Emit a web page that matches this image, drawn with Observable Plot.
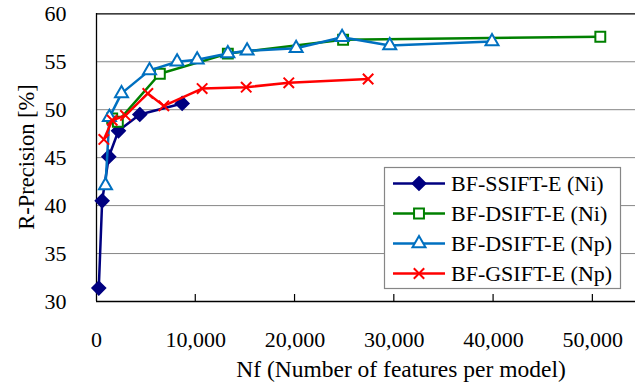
<!DOCTYPE html>
<html>
<head>
<meta charset="utf-8">
<script src="https://cdn.jsdelivr.net/npm/d3@7"></script>
<script src="https://cdn.jsdelivr.net/npm/@observablehq/plot@0.6"></script>
<style>
  html, body { margin: 0; padding: 0; background: white; }
  #chart { width: 635px; height: 385px; overflow: hidden; }
</style>
</head>
<body>
<div id="chart"></div>
<script>
// ---- data ----
const seriesNames = ["BF-SSIFT-E (Ni)", "BF-DSIFT-E (Ni)", "BF-DSIFT-E (Np)", "BF-GSIFT-E (Np)"];
const ssiftNiX = [230, 570, 1240, 2215, 4360, 8630];
const ssiftNiY = [31.4, 40.5, 45.1, 47.8, 49.5, 50.65];
const dsiftNiX = [1580, 2150, 6380, 13230, 24840, 50750];
const dsiftNiY = [49.1, 48.75, 53.75, 55.85, 57.3, 57.6];
const dsiftNpX = [906, 1300, 2520, 5340, 8120, 10140, 13230, 15170, 20110, 24740, 29540, 39840];
const dsiftNpY = [42.1, 49.2, 51.7, 54.1, 55.0, 55.2, 55.85, 56.15, 56.4, 57.55, 56.7, 57.1];
const gsiftNpX = [740, 1580, 2920, 5170, 6780, 10640, 15080, 19370, 27360];
const gsiftNpY = [46.9, 48.9, 49.4, 51.7, 50.4, 52.2, 52.35, 52.8, 53.2];
const xTicks = [0, 10000, 20000, 30000, 40000, 50000];
const yTicks = [30, 35, 40, 45, 50, 55, 60];
const xLabel = "Nf (Number of features per model)";
const yLabel = "R-Precision [%]";

// ---- styles ----
const colors = ["#000080", "#008000", "#0070C0", "#FF0000"];
const symbols = ["diamond2", "square2", "triangle2", "times"];
const filled = [true, false, false, false];
const dotR = [5.8, 6.3, 6.2, 4.8];
const FONT = "'Liberation Serif', 'Times New Roman', serif";

const xsAll = [ssiftNiX, dsiftNiX, dsiftNpX, gsiftNpX];
const ysAll = [ssiftNiY, dsiftNiY, dsiftNpY, gsiftNpY];
const data = [];
seriesNames.forEach((name, i) => xsAll[i].forEach((x, j) => data.push({series: name, idx: i, nf: x, rp: ysAll[i][j]})));

const marks = [
  Plot.gridY(yTicks.slice(1, -1), {stroke: "#868686", strokeOpacity: 1, strokeWidth: 1}),
  Plot.ruleY([60], {stroke: "black", strokeWidth: 1.3}),
  Plot.ruleY([30], {stroke: "black", strokeWidth: 1.3}),
  Plot.ruleX([0], {stroke: "black", strokeWidth: 1.3}),
  Plot.axisX({ticks: xTicks, tickSize: 0, tickPadding: 30, tickFormat: d3.format(","), fontSize: 22, fontFamily: FONT, label: null}),
  Plot.axisY({ticks: yTicks, tickSize: 0, tickPadding: 30, fontSize: 22, fontFamily: FONT, label: null})
];
seriesNames.forEach((name, i) => {
  const d = data.filter(e => e.idx === i);
  marks.push(Plot.line(d, {x: "nf", y: "rp", stroke: colors[i], strokeWidth: 2.5}));
  marks.push(Plot.dot(d, {x: "nf", y: "rp", symbol: () => symbols[i], r: dotR[i],
    fill: filled[i] ? colors[i] : (i === 3 ? "none" : "white"),
    stroke: colors[i], strokeWidth: 2}));
});

const chart = Plot.plot({
  width: 635,
  height: 385,
  marginLeft: 96,
  marginTop: 13,
  marginBottom: 84,
  marginRight: 0,
  x: {domain: [0, 55000], range: [96, 642]},
  y: {domain: [30, 60], range: [301, 13.3]},
  style: {fontFamily: FONT, fontSize: "22px", background: "white", color: "black", overflow: "hidden"},
  marks
});
document.getElementById("chart").appendChild(chart);

// ---- inner x ticks, titles and legend (layout) ----
const svg = d3.select(chart);
const xs = chart.scale("x"), ys = chart.scale("y");
const y0 = ys.apply(30);
svg.append("g").selectAll("line").data(xTicks.slice(1)).join("line")
  .attr("x1", d => xs.apply(d)).attr("x2", d => xs.apply(d))
  .attr("y1", y0).attr("y2", y0 - 7)
  .attr("stroke", "black").attr("stroke-width", 1.2);

svg.append("text").text(xLabel)
  .attr("x", 401).attr("y", 377).attr("text-anchor", "middle")
  .attr("font-family", FONT).attr("font-size", 23.5).attr("fill", "black");
svg.append("text").text(yLabel)
  .attr("transform", "translate(34,157) rotate(-90)").attr("text-anchor", "middle")
  .attr("font-family", FONT).attr("font-size", 22.5).attr("fill", "black");

const lg = svg.append("g");
lg.append("rect").attr("x", 384.5).attr("y", 167.5).attr("width", 236).attr("height", 121)
  .attr("fill", "white").attr("stroke", "#868686").attr("stroke-width", 1.2);
const symMap = {diamond2: d3.symbolDiamond2, square2: d3.symbolSquare2, triangle2: d3.symbolTriangle2, times: d3.symbolTimes};
seriesNames.forEach((name, i) => {
  const cy = 183.5 + i * 30;
  lg.append("line").attr("x1", 393).attr("x2", 445).attr("y1", cy).attr("y2", cy)
    .attr("stroke", colors[i]).attr("stroke-width", 2.5);
  lg.append("path").attr("d", d3.symbol(symMap[symbols[i]], Math.PI * dotR[i] * dotR[i])())
    .attr("transform", `translate(419,${cy})`)
    .attr("fill", filled[i] ? colors[i] : (i === 3 ? "none" : "white"))
    .attr("stroke", colors[i]).attr("stroke-width", 2);
  lg.append("text").text(name).attr("x", 451).attr("y", cy).attr("dy", "0.35em")
    .attr("text-anchor", "start")
    .attr("font-family", FONT).attr("font-size", 22).attr("fill", "black");
});
</script>
</body>
</html>
